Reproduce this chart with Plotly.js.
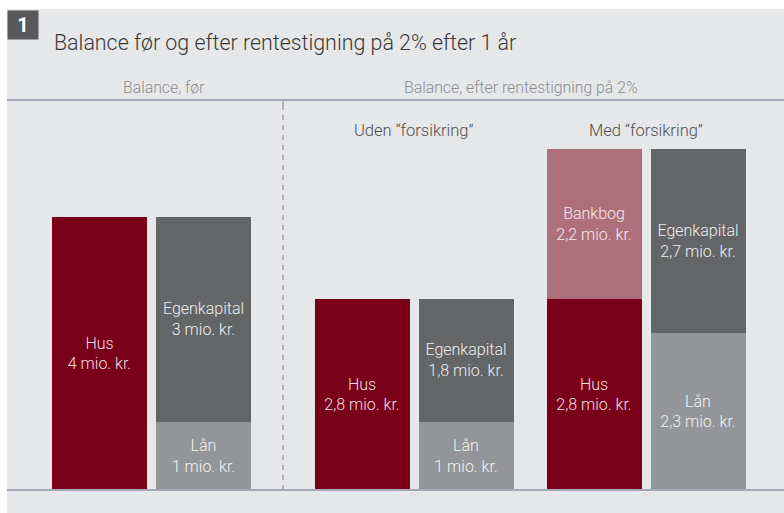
<!DOCTYPE html>
<html>
<head>
<meta charset="utf-8">
<script src="https://cdn.plot.ly/plotly-3.0.1.min.js"></script>
<style>
  html, body { margin: 0; padding: 0; background: #ffffff; }
  #chart { position: absolute; left: 7px; top: 9px; width: 777px; height: 504px; }
</style>
</head>
<body>
<div id="chart"></div>
<script>
// balance values, mio. kr.
let scenarios = ["Balance, før", "Uden \u201cforsikring\u201d", "Med \u201cforsikring\u201d"];
let hus = [4, 2.8, 2.8];
let bankbog = [0, 0, 2.2];
let laan = [1, 1, 2.3];
let egenkapital = [3, 1.8, 2.7];

let title = "Balance før og efter rentestigning på 2% efter 1 år";
let sections = ["Balance, før", "Balance, efter rentestigning på 2%"];

// layout helpers (pixel-ish x axis)
let groupPos = [144.5, 407, 639];
let barOffset = 52;
let barWidth = 95;
let sectionPos = [157, 514];
let dividerX = 276;
let pxPerUnit = 68.25;

const FONT = '"Liberation Sans Narrow", "Roboto", sans-serif';

function fmt(v) {
    return String(v).replace('.', ',');
}

function segment(name, vals, side, color, textColor) {
    let xs = [], ys = [], txt = [];
    vals.forEach((v, i) => {
        if (v > 0) {
            xs.push(groupPos[i] + side * barOffset);
            ys.push(v);
            txt.push(name + '<br>' + fmt(v) + ' mio. kr.');
        }
    });
    return {
        type: 'bar',
        x: xs,
        y: ys,
        width: barWidth,
        name: name,
        text: txt,
        textposition: 'inside',
        insidetextanchor: 'middle',
        textangle: 0,
        constraintext: 'none',
        textfont: { family: FONT, size: 16, color: textColor, weight: 300 },
        marker: { color: color, line: { width: 0 } },
        hoverinfo: 'none'
    };
}

let data = [
    segment('Hus', hus, -1, '#790019', '#f1dfe2'),
    segment('Bankbog', bankbog, -1, '#ad707b', '#f6e9eb'),
    segment('Lån', laan, 1, '#939598', '#f2f2f2'),
    segment('Egenkapital', egenkapital, 1, '#646567', '#eeeeee')
];

let plotHeight = 504 - 91 - 23;

let annotations = [
    {
        text: '<b>1</b>', xref: 'paper', x: 0, xanchor: 'left',
        yref: 'paper', y: 1, yanchor: 'top', yshift: 90,
        width: 30, height: 28, borderpad: 0, bgcolor: '#58595b',
        font: { family: FONT, size: 20, color: '#ffffff' }, showarrow: false
    },
    {
        text: title, xref: 'x', x: 45, xanchor: 'left',
        yref: 'paper', y: 1, yanchor: 'middle', yshift: 58,
        font: { family: FONT, size: 21.4, color: '#3a3a3a', weight: 300 }, showarrow: false
    }
];
sections.forEach((s, i) => {
    annotations.push({
        text: s, xref: 'x', x: sectionPos[i], xanchor: 'center',
        yref: 'paper', y: 1, yanchor: 'middle', yshift: 13,
        font: { family: FONT, size: 15.8, color: '#8d8d8f', weight: 300 }, showarrow: false
    });
});
scenarios.slice(1).forEach((s, i) => {
    annotations.push({
        text: s, xref: 'x', x: groupPos[i + 1], xanchor: 'center',
        yref: 'paper', y: 1, yanchor: 'middle', yshift: -30,
        font: { family: FONT, size: 16.5, color: '#505050', weight: 300 }, showarrow: false
    });
});

let layout = {
    width: 777,
    height: 504,
    margin: { l: 0, r: 0, t: 91, b: 23, pad: 0 },
    paper_bgcolor: '#e6e7e9',
    plot_bgcolor: '#e6e7e9',
    barmode: 'stack',
    showlegend: false,
    hovermode: false,
    xaxis: { range: [0, 777], visible: false, fixedrange: true },
    yaxis: { range: [0, plotHeight / pxPerUnit], visible: false, fixedrange: true },
    annotations: annotations,
    shapes: [
        {
            type: 'line', xref: 'x', x0: dividerX, x1: dividerX,
            yref: 'paper', y0: 0, y1: 1,
            line: { color: '#a2a3a6', width: 1.5, dash: '5px,5px' }, layer: 'below'
        },
        {
            type: 'line', xref: 'x', x0: dividerX, x1: dividerX,
            yref: 'paper', y0: 1 - 6 / plotHeight, y1: 1,
            line: { color: '#a2a3a6', width: 1.5 }, layer: 'below'
        },
        {
            type: 'line', xref: 'paper', x0: 0, x1: 1,
            yref: 'paper', y0: 1, y1: 1,
            line: { color: '#a4a8b4', width: 2 }
        },
        {
            type: 'line', xref: 'paper', x0: 0, x1: 1,
            yref: 'paper', y0: 0, y1: 0,
            line: { color: '#a4a8b4', width: 2 }
        }
    ]
};

Plotly.newPlot('chart', data, layout, {
    displayModeBar: false,
    staticPlot: true
});
</script>
</body>
</html>
